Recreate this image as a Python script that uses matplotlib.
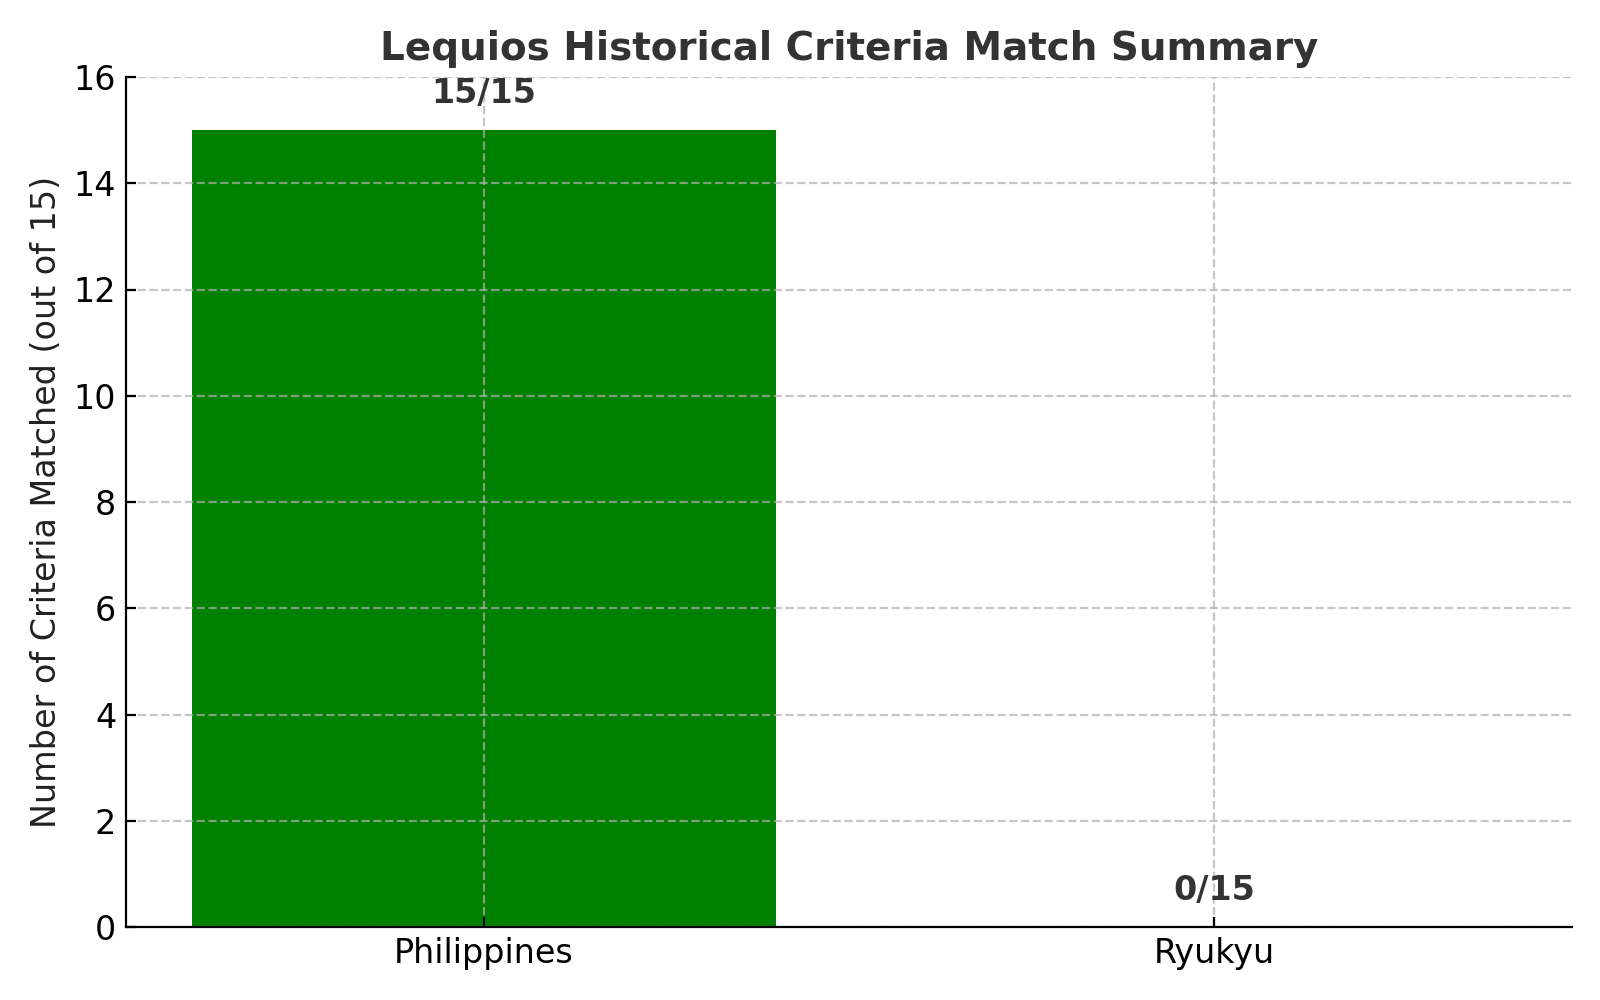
import matplotlib
matplotlib.use("Agg")
import matplotlib.pyplot as plt

categories = ["Philippines", "Ryukyu"]
matched = [15, 0]
total = 15
bar_colors = ["green", "red"]

fig, ax = plt.subplots(figsize=(8, 5), dpi=200)
bars = ax.bar(categories, matched, color=bar_colors, width=0.8)
for b, v in zip(bars, matched):
    ax.text(b.get_x() + b.get_width() / 2, v + 0.37, f"{v}/{total}",
            ha="center", va="bottom", fontsize=12, fontweight="bold", color="#333333")
ax.set_ylim(0, 16)
ax.set_title("Lequios Historical Criteria Match Summary", fontsize=14,
             fontweight="bold", color="#333333")
ax.set_ylabel("Number of Criteria Matched (out of 15)", fontsize=12, color="#222222")
ax.tick_params(labelsize=12, direction="in")
ax.grid(True, linestyle="--", alpha=0.7)
ax.spines["top"].set_visible(False)
ax.spines["right"].set_visible(False)
for s in ("left", "bottom"):
    ax.spines[s].set_zorder(5)
fig.subplots_adjust(left=0.0788, right=0.9825, top=0.923, bottom=0.073)
fig.savefig("out.png", dpi=200)
